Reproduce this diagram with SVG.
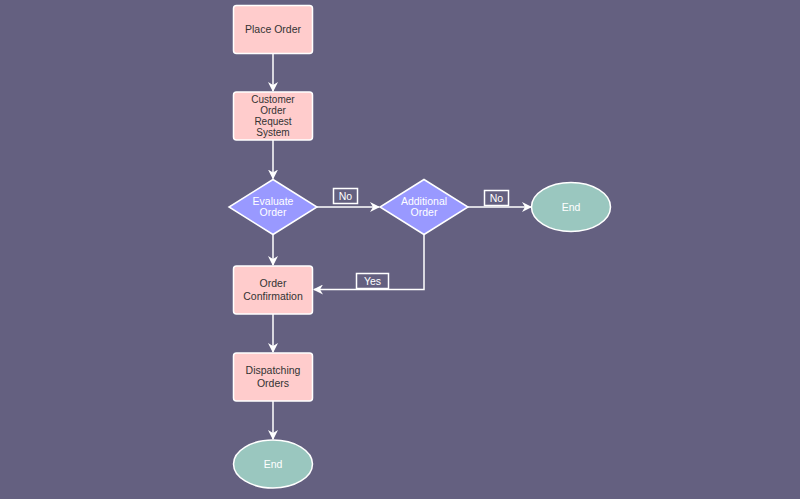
<svg xmlns="http://www.w3.org/2000/svg" width="800" height="499" viewBox="0 0 800 499">
<defs>
<marker id="arr" viewBox="0 0 10 10" refX="9" refY="5" markerWidth="10" markerHeight="10" markerUnits="userSpaceOnUse" orient="auto">
<path d="M0,0 L10,5 L0,10 L3,5 Z" fill="#ffffff"/>
</marker>
<style>
.box{fill:#ffcccc;stroke:#ffffff;stroke-width:1.5}
.dia{fill:#9999ff;stroke:#ffffff;stroke-width:1.5}
.ell{fill:#9ac7bf;stroke:#ffffff;stroke-width:1.5}
.lbl{fill:#646080;stroke:#ffffff;stroke-width:1.5}
.line{fill:none;stroke:#ffffff;stroke-width:1.5;marker-end:url(#arr)}
text{font-family:"Liberation Sans",Arial,sans-serif;font-size:10.5px;text-anchor:middle}
.dk{fill:#333333}
.wt{fill:#ffffff}
.sm{font-size:10px}
</style>
</defs>
<rect width="800" height="499" fill="#646080"/>
<g id="connectors">
<path class="line" d="M273,53.5 V91"/>
<path class="line" d="M273,140 V178.5"/>
<path class="line" d="M317,207 H379"/>
<path class="line" d="M468,207 H531"/>
<path class="line" d="M273,235 V265"/>
<path class="line" d="M424,235 V289.5 H314"/>
<path class="line" d="M273,314 V352"/>
<path class="line" d="M273,401 V439"/>
<rect class="lbl" x="333.5" y="188.5" width="24" height="15"/>
<text class="wt" x="345.5" y="200">No</text>
<rect class="lbl" x="484.5" y="190.5" width="24" height="15"/>
<text class="wt" x="496.5" y="202">No</text>
<rect class="lbl" x="356.5" y="273.5" width="32" height="15"/>
<text class="wt" x="372.5" y="285">Yes</text>
</g>
<g id="place-order">
<rect class="box" x="233.5" y="5.5" width="79" height="48" rx="3"/>
<text class="dk" x="273" y="33">Place Order</text>
</g>
<g id="customer-order">
<rect class="box" x="233.5" y="92" width="79" height="48" rx="3"/>
<text class="dk sm" x="273" y="103.3">Customer</text>
<text class="dk sm" x="273" y="114.3">Order</text>
<text class="dk sm" x="273" y="125.2">Request</text>
<text class="dk sm" x="273" y="136">System</text>
</g>
<g id="evaluate-order">
<polygon class="dia" points="273,179.5 317,207 273,234.5 229,207"/>
<text class="wt" x="273" y="204.5">Evaluate</text>
<text class="wt" x="273" y="216">Order</text>
</g>
<g id="additional-order">
<polygon class="dia" points="424,179.5 468,207 424,234.5 380,207"/>
<text class="wt" x="424" y="204.5">Additional</text>
<text class="wt" x="424" y="216">Order</text>
</g>
<g id="end-right">
<ellipse class="ell" cx="571" cy="207" rx="39.5" ry="24.5"/>
<text class="wt" x="571" y="210.5">End</text>
</g>
<g id="order-confirmation">
<rect class="box" x="233.5" y="266" width="79" height="48" rx="3"/>
<text class="dk" x="273" y="287">Order</text>
<text class="dk" x="273" y="299.5">Confirmation</text>
</g>
<g id="dispatching-orders">
<rect class="box" x="233.5" y="353" width="79" height="48" rx="3"/>
<text class="dk" x="273" y="374">Dispatching</text>
<text class="dk" x="273" y="386.5">Orders</text>
</g>
<g id="end-bottom">
<ellipse class="ell" cx="273" cy="464" rx="39.5" ry="24"/>
<text class="wt" x="273" y="467.5">End</text>
</g>
</svg>
